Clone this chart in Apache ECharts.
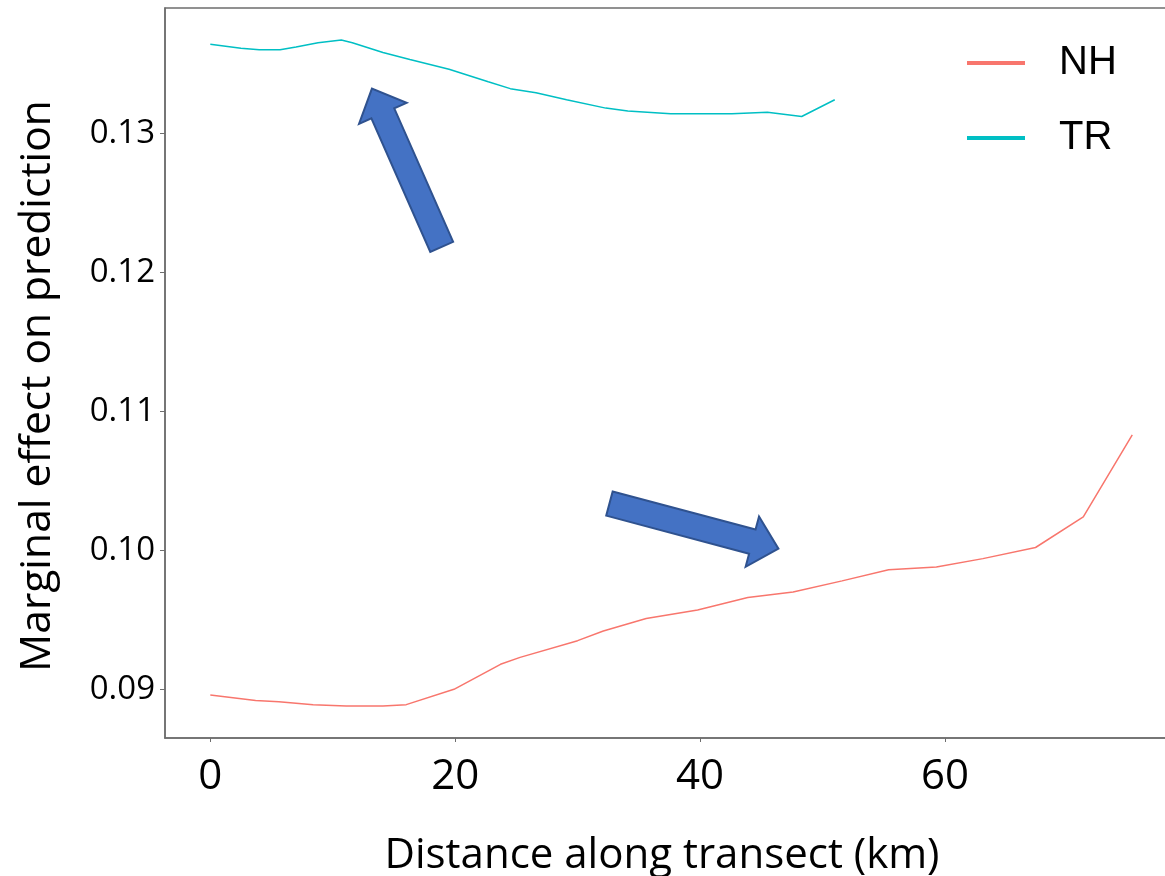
<!DOCTYPE html>
<html>
<head>
<meta charset="utf-8">
<script src="https://cdn.jsdelivr.net/npm/echarts@6/dist/echarts.min.js"></script>
<style>
  html, body { margin: 0; padding: 0; background: #fff; }
  #chart { width: 1165px; height: 876px; }
</style>
</head>
<body>
<div id="chart"></div>
<script>
// distances (km) and marginal effect per transect
const nhDist = [0, 3.7, 5.6, 8.4, 11.1, 14.1, 16.0, 19.9, 21.8, 23.7, 25.3, 30.0, 32.1, 35.6, 39.8, 43.9, 47.6, 51.6, 55.4, 59.3, 63.1, 67.4, 71.3, 75.3]
const nhVals = [0.0896, 0.0892, 0.0891, 0.0889, 0.0888, 0.0888, 0.0889, 0.0900, 0.0909, 0.0918, 0.0923, 0.0935, 0.0942, 0.0951, 0.0957, 0.0966, 0.0970, 0.0978, 0.0986, 0.0988, 0.0994, 0.1002, 0.1024, 0.1083]
const trDist = [0, 2.5, 4.0, 5.7, 7.0, 8.8, 10.7, 11.6, 14.1, 16.3, 19.5, 22.7, 24.5, 26.6, 29.1, 32.3, 34.1, 37.6, 42.6, 45.5, 48.3, 51.0]
const trVals = [0.1364, 0.1361, 0.1360, 0.1360, 0.1362, 0.1365, 0.1367, 0.1365, 0.1358, 0.1353, 0.1346, 0.1337, 0.1332, 0.1329, 0.1324, 0.1318, 0.1316, 0.1314, 0.1314, 0.1315, 0.1312, 0.1324]
const xTicks = [0, 20, 40, 60]
const yTicks = [0.09, 0.10, 0.11, 0.12, 0.13]

const nhColor = '#F8766D'
const trColor = '#00BFC4'
const axisColor = '#6e6e6e'

let chart = echarts.init(document.getElementById('chart'))

// block arrow polygon: tail centre -> tip
function arrowPoints(tail, tip, shaftW, headW, headL) {
    let dx = tip[0] - tail[0], dy = tip[1] - tail[1]
    let len = Math.sqrt(dx * dx + dy * dy)
    let ux = dx / len, uy = dy / len
    let nx = -uy, ny = ux
    let bx = tip[0] - ux * headL, by = tip[1] - uy * headL
    let p = (x, y, s) => [x + nx * s, y + ny * s]
    return [
        p(tail[0], tail[1], shaftW / 2),
        p(bx, by, shaftW / 2),
        p(bx, by, headW / 2),
        tip,
        p(bx, by, -headW / 2),
        p(bx, by, -shaftW / 2),
        p(tail[0], tail[1], -shaftW / 2)
    ]
}

let option = {
    animation: false,
    backgroundColor: '#fff',
    grid: {
        left: 165,
        top: 8,
        right: -4,
        bottom: 138,
        outerBoundsMode: 'none',
        show: true,
        borderColor: axisColor,
        borderWidth: 1.5
    },
    legend: {
        left: 962,
        top: 38,
        orient: 'vertical',
        icon: 'rect',
        itemWidth: 58,
        itemHeight: 4,
        itemGap: 35,
        textStyle: {
            fontFamily: 'Liberation Sans, Arial, sans-serif',
            fontSize: 40,
            lineHeight: 40,
            color: '#000',
            padding: [0, 0, 0, 29]
        },
        data: ['NH', 'TR']
    },
    xAxis: {
        type: 'value',
        min: -3.7,
        max: 78.3,
        name: 'Distance along transect (km)',
        nameLocation: 'middle',
        nameGap: 97,
        nameTextStyle: {
            fontFamily: 'Open Sans, sans-serif',
            fontSize: 42,
            color: '#000',
            padding: [0, 10, 0, 0]
        },
        axisLine: { show: true, onZero: false, lineStyle: { color: axisColor, width: 1.5 } },
        axisTick: { show: true, length: 4, customValues: xTicks, lineStyle: { color: axisColor } },
        axisLabel: {
            customValues: xTicks,
            margin: 18,
            fontFamily: 'Open Sans, sans-serif',
            fontSize: 42,
            color: '#000'
        },
        splitLine: { show: false }
    },
    yAxis: {
        type: 'value',
        min: 0.0865,
        max: 0.1390,
        name: 'Marginal effect on prediction',
        nameLocation: 'middle',
        nameGap: 106,
        nameRotate: 90,
        nameTextStyle: {
            fontFamily: 'Open Sans, sans-serif',
            fontSize: 42.5,
            color: '#000',
            padding: [0, 26, 0, 0]
        },
        axisLine: { show: true, onZero: false, lineStyle: { color: axisColor, width: 1.5 } },
        axisTick: { show: true, length: 5, customValues: yTicks, lineStyle: { color: axisColor } },
        axisLabel: {
            customValues: yTicks,
            margin: 10,
            fontFamily: 'Open Sans, sans-serif',
            fontSize: 33,
            color: '#000',
            formatter: v => v.toFixed(2)
        },
        splitLine: { show: false }
    },
    series: [{
        name: 'NH',
        type: 'line',
        symbol: 'none',
        color: nhColor,
        lineStyle: { width: 1.5, color: nhColor },
        data: nhDist.map((d, i) => [d, nhVals[i]])
    }, {
        name: 'TR',
        type: 'line',
        symbol: 'none',
        color: trColor,
        lineStyle: { width: 1.5, color: trColor },
        data: trDist.map((d, i) => [d, trVals[i]])
    }]
}
chart.setOption(option)

// annotation arrows, placed in data coordinates
let toPx = p => chart.convertToPixel({ gridIndex: 0 }, p)
let arrows = [
    { tail: [18.9, 0.12182], tip: [13.2, 0.13320] },
    { tail: [32.6, 0.10336], tip: [46.4, 0.10012] }
]
chart.setOption({
    graphic: arrows.map(a => ({
        type: 'polygon',
        z: 100,
        shape: { points: arrowPoints(toPx(a.tail), toPx(a.tip), 25, 52, 27) },
        style: { fill: '#4472C4', stroke: '#2F528F', lineWidth: 2 }
    }))
})
</script>
</body>
</html>
